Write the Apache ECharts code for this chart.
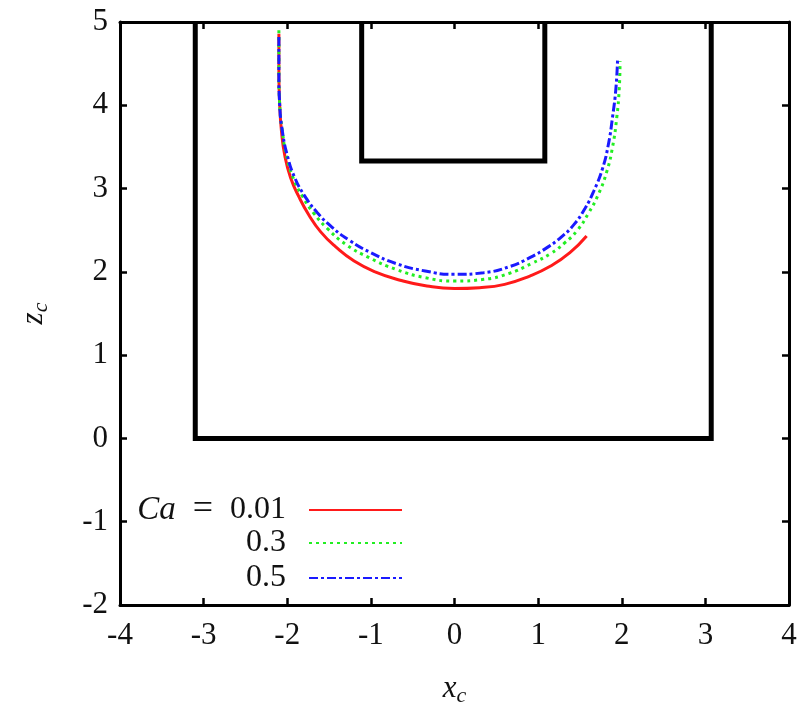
<!DOCTYPE html>
<html>
<head>
<meta charset="utf-8">
<script src="https://cdn.jsdelivr.net/npm/echarts@6/dist/echarts.min.js"></script>
<style>
html,body{margin:0;padding:0;background:#fff;}
#chart{width:803px;height:710px;}
</style>
</head>
<body>
<div id="chart"></div>
<script>
// ---- data ----
var xTicks = [-4, -3, -2, -1, 0, 1, 2, 3, 4];
var yTicks = [-2, -1, 0, 1, 2, 3, 4, 5];
var outerBox = [[-3.1, 5], [-3.1, 0], [3.07, 0], [3.07, 5]];
var innerBox = [[-1.11, 5], [-1.11, 3.33], [1.08, 3.33], [1.08, 5]];
var seriesNames = ['0.01', '0.3', '0.5'];
var curveCa001 = [[-2.10,4.86],[-2.10,4.40],[-2.09,4.00],[-2.07,3.70],[-2.03,3.40],[-1.96,3.13],[-1.86,2.90],[-1.74,2.68],[-1.60,2.48],[-1.42,2.30],[-1.20,2.13],[-0.95,2.00],[-0.65,1.90],[-0.33,1.83],[0,1.80],[0.30,1.81],[0.60,1.85],[0.90,1.95],[1.15,2.07],[1.38,2.23],[1.58,2.43]];
var curveCa03 = [[-2.10,4.90],[-2.10,4.40],[-2.09,4.00],[-2.06,3.70],[-2.01,3.40],[-1.93,3.13],[-1.82,2.91],[-1.68,2.70],[-1.52,2.52],[-1.30,2.33],[-1.02,2.17],[-0.70,2.03],[-0.35,1.93],[0,1.89],[0.35,1.91],[0.65,1.98],[0.92,2.10],[1.15,2.22],[1.32,2.35],[1.47,2.50],[1.60,2.70],[1.72,2.93],[1.82,3.20],[1.89,3.50],[1.94,3.85],[1.97,4.20],[1.98,4.53]];
var curveCa05 = [[-2.10,4.82],[-2.10,4.40],[-2.09,4.00],[-2.06,3.70],[-2.00,3.40],[-1.91,3.13],[-1.79,2.91],[-1.64,2.71],[-1.47,2.54],[-1.26,2.38],[-1.02,2.24],[-0.70,2.10],[-0.35,2.01],[0,1.97],[0.35,1.99],[0.65,2.06],[0.90,2.17],[1.12,2.30],[1.28,2.42],[1.43,2.57],[1.56,2.76],[1.67,2.98],[1.77,3.24],[1.84,3.53],[1.89,3.86],[1.93,4.20],[1.95,4.55]];

var FONT = 'Liberation Serif';
var chart = echarts.init(document.getElementById('chart'), null, {renderer: 'canvas'});

function axisCommon(min, max, showLabel) {
  return {
    type: 'value', min: min, max: max, interval: 1,
    axisLine: {show: true, onZero: false, lineStyle: {color: '#000', width: 3}},
    axisTick: {show: true, inside: true, length: 7, lineStyle: {color: '#000', width: 2.5}},
    splitLine: {show: false},
    axisLabel: {show: showLabel, color: '#111', fontFamily: FONT, fontSize: 31}
  };
}

var nameRich = {
  i: {fontFamily: FONT, fontStyle: 'italic', fontSize: 31, color: '#111'},
  s: {fontFamily: FONT, fontStyle: 'italic', fontSize: 22, color: '#111', padding: [14, 0, 0, 0]}
};

var xBottom = axisCommon(xTicks[0], xTicks[xTicks.length-1], true);
xBottom.position = 'bottom';
xBottom.axisLabel.margin = 15;
xBottom.name = '{i|x}{s|c}';
xBottom.nameLocation = 'middle';
xBottom.nameGap = 66;
xBottom.nameTextStyle = {rich: nameRich};
var xTop = axisCommon(xTicks[0], xTicks[xTicks.length-1], false);
xTop.position = 'top';

var yLeft = axisCommon(yTicks[0], yTicks[yTicks.length-1], true);
yLeft.position = 'left';
yLeft.axisLabel.margin = 12;
yLeft.name = '{i|z}{s|c}';
yLeft.nameLocation = 'middle';
yLeft.nameGap = 68;
yLeft.nameRotate = 90;
yLeft.nameTextStyle = {rich: nameRich};
var yRight = axisCommon(yTicks[0], yTicks[yTicks.length-1], false);
yRight.position = 'right';

var curveColors = ['#ff1a1a', '#22ee22', '#1a1aff'];
var curveTypes = ['solid', [3, 4], [9, 3, 3, 3]];
var curveData = [curveCa001, curveCa03, curveCa05];

var series = [
  {type: 'line', data: outerBox, symbol: 'none', silent: true, xAxisIndex: 0, yAxisIndex: 0,
   lineStyle: {color: '#000', width: 5, join: 'miter'}, z: 2},
  {type: 'line', data: innerBox, symbol: 'none', silent: true, xAxisIndex: 0, yAxisIndex: 0,
   lineStyle: {color: '#000', width: 5, join: 'miter'}, z: 2}
];
for (var k = 0; k < 3; k++) {
  series.push({
    type: 'line', name: seriesNames[k], data: curveData[k], symbol: 'none', smooth: 0.5,
    xAxisIndex: 0, yAxisIndex: 0, z: 3 + k,
    lineStyle: {color: curveColors[k], width: 3, type: curveTypes[k]},
    itemStyle: {color: curveColors[k]}
  });
}

var legendTops = [492, 527, 562];
var legends = [];
for (var j = 0; j < 3; j++) {
  legends.push({
    data: [seriesNames[j]],
    right: 400, top: legendTops[j], align: 'right', orient: 'vertical', padding: 0,
    itemWidth: 93, itemHeight: 12, selectedMode: false,
    itemStyle: {opacity: 0},
    formatter: (function(jj){ return function(n){
      return jj === 0 ? '{i|Ca}{e|=}{n|' + n + '}' : '{n|' + n + '}';
    };})(j),
    textStyle: {rich: {
      i: {fontFamily: FONT, fontStyle: 'italic', fontSize: 33, color: '#111'},
      e: {fontFamily: FONT, fontSize: 36, color: '#111', padding: [0, 17, 0, 17]},
      n: {fontFamily: FONT, fontSize: 32, color: '#111', padding: [0, 18, 0, 0]}
    }}
  });
}

chart.setOption({
  animation: false,
  backgroundColor: '#fff',
  grid: {left: 120, right: 14, top: 22, bottom: 105, containLabel: false, outerBoundsMode: 'none'},
  xAxis: [xBottom, xTop],
  yAxis: [yLeft, yRight],
  legend: legends,
  series: series
});
</script>
</body>
</html>
